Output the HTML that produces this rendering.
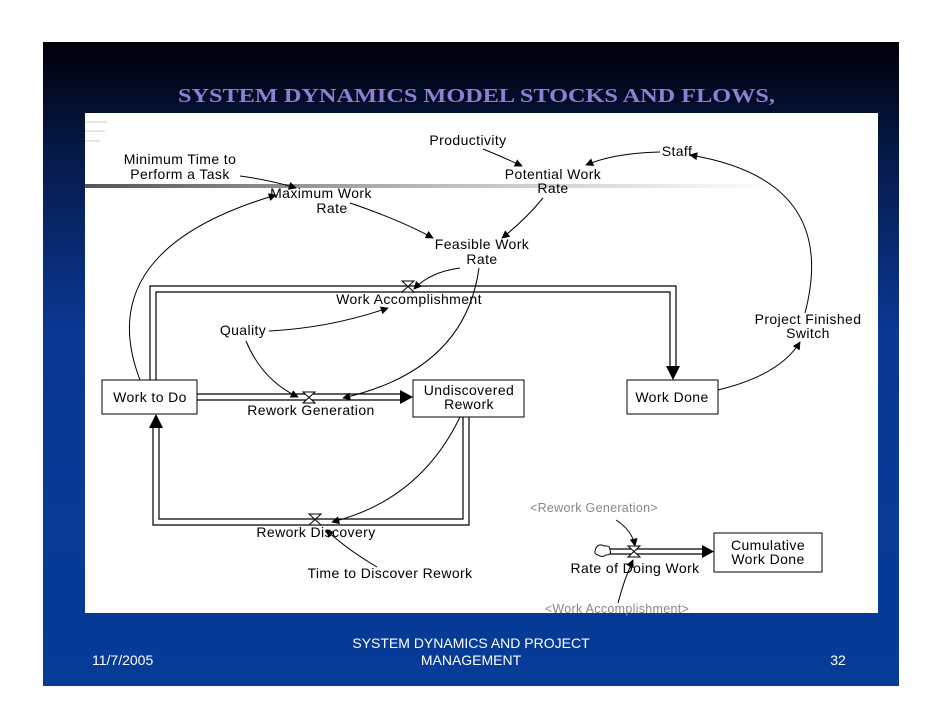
<!DOCTYPE html>
<html><head><meta charset="utf-8"><style>
html,body{margin:0;padding:0;background:#fff;width:942px;height:728px;overflow:hidden}
svg{display:block}
</style></head><body>
<svg width="942" height="728" viewBox="0 0 942 728" xmlns="http://www.w3.org/2000/svg" font-family="Liberation Sans, sans-serif">
<defs>
<linearGradient id="bg" x1="0" y1="0" x2="0" y2="1">
<stop offset="0" stop-color="#00000a"/>
<stop offset="0.18" stop-color="#061a4a"/>
<stop offset="0.45" stop-color="#0a3894"/>
<stop offset="1" stop-color="#063b98"/>
</linearGradient>
<linearGradient id="gl" x1="0" y1="0" x2="1" y2="0">
<stop offset="0" stop-color="#555"/>
<stop offset="0.5" stop-color="#bbb"/>
<stop offset="1" stop-color="#fff"/>
</linearGradient>
<marker id="a" viewBox="0 0 10 10" refX="9" refY="5" markerWidth="13" markerHeight="8" orient="auto" markerUnits="userSpaceOnUse"><path d="M0,0 L10,5 L0,10z" fill="#000"/></marker>
</defs>
<rect x="43" y="42" width="856" height="644" fill="url(#bg)"/>
<text x="178" y="102" textLength="597" lengthAdjust="spacingAndGlyphs" font-family="Liberation Serif, serif" font-weight="bold" font-size="20" fill="#8f7fd0">SYSTEM DYNAMICS MODEL  STOCKS AND FLOWS,</text>
<rect x="85" y="113" width="793" height="500" fill="#fff"/>
<g stroke="#ccc" stroke-width="1"><line x1="85" y1="122" x2="107" y2="122"/><line x1="85" y1="131" x2="105" y2="131"/><line x1="85" y1="141" x2="100" y2="141"/></g>
<rect x="85" y="184" width="690" height="4" fill="url(#gl)"/>

<g font-size="14" letter-spacing="0.4" fill="#000" text-anchor="middle">
<text x="468" y="145">Productivity</text>
<text x="677" y="156">Staff</text>
<text x="180" y="164">Minimum Time to</text>
<text x="180" y="179">Perform a Task</text>
<text x="553" y="179">Potential Work</text>
<text x="553" y="193">Rate</text>
<text x="321" y="198">Maximum Work</text>
<text x="332" y="213">Rate</text>
<text x="482" y="249">Feasible Work</text>
<text x="482" y="264">Rate</text>
<text x="409" y="304">Work Accomplishment</text>
<text x="243" y="335">Quality</text>
<text x="808" y="324">Project Finished</text>
<text x="808" y="338">Switch</text>
<text x="311" y="415">Rework Generation</text>
<text x="316" y="537">Rework Discovery</text>
<text x="390" y="578">Time to Discover Rework</text>
<text x="635" y="573">Rate of Doing Work</text>
</g>
<g font-size="12.5" letter-spacing="0.3" fill="#888" text-anchor="middle">
<text x="594" y="512">&lt;Rework Generation&gt;</text>
<text x="617" y="613">&lt;Work Accomplishment&gt;</text>
</g>

<g fill="none" stroke="#000" stroke-width="1.2">
<path d="M150,380 V286 H676 V370"/>
<path d="M156,380 V292 H670 V370"/>
<path d="M197,394 H403"/><path d="M197,400 H403"/>
<path d="M463,417 V519 H159 V425"/><path d="M469,417 V525 H153 V425"/>
<path d="M610,549 H705"/><path d="M610,554 H705"/>
</g>
<path d="M666,366 L673,380 L680,366z" fill="#000"/>
<path d="M400,390 L413,397 L400,404z" fill="#000"/>
<path d="M149,428 L156,414 L163,428z" fill="#000"/>
<path d="M702,545 L714,551.5 L702,558z" fill="#000"/>
<g fill="#fff" stroke="#000" stroke-width="1">
<path d="M402,281 L414,281 L402,292 L414,292z"/>
<path d="M303,392 L315,392 L303,403 L315,403z"/>
<path d="M309,514 L321,514 L309,525 L321,525z"/>
<path d="M628,546 L640,546 L628,557 L640,557z"/>
<path d="M596,548 q3,-5 8,-2 q6,-1 6,4 q2,5 -4,5 q-4,3 -8,0 q-5,-1 -2,-7z"/>
</g>
<g fill="#fff" stroke="#000" stroke-width="1">
<rect x="102" y="380" width="95" height="34"/>
<rect x="413" y="380" width="111" height="37"/>
<rect x="627" y="380" width="91" height="34"/>
<rect x="714" y="533" width="108" height="39"/>
</g>
<g font-size="14" letter-spacing="0.4" fill="#000" text-anchor="middle">
<text x="150" y="402">Work to Do</text>
<text x="469" y="395">Undiscovered</text>
<text x="469" y="409">Rework</text>
<text x="672" y="402">Work Done</text>
<text x="768" y="550">Cumulative</text>
<text x="768" y="564">Work Done</text>
</g>

<g fill="none" stroke="#000" stroke-width="1" marker-end="url(#a)">
<path d="M240,176 Q270,180 296,188"/>
<path d="M483,149 Q505,158 522,166"/>
<path d="M660,152 Q615,153 586,165"/>
<path d="M350,203 Q400,220 433,238"/>
<path d="M543,198 Q525,220 502,238"/>
<path d="M460,268 Q430,272 414,289"/>
<path d="M140,380 Q90,250 276,195"/>
<path d="M269,331 Q330,328 388,308"/>
<path d="M246,341 Q262,380 298,397"/>
<path d="M479,268 Q465,370 343,398"/>
<path d="M460,417 Q420,500 332,522"/>
<path d="M718,390 Q780,375 800,342"/>
<path d="M805,313 Q840,180 690,155"/>
<path d="M377,567 Q348,550 326,530"/>
<path d="M616,520 Q632,530 635,546"/>
<path d="M618,603 Q624,580 633,560"/>
</g>

<g font-size="14" fill="#fff">
<text x="92" y="665">11/7/2005</text>
<text x="471" y="648" text-anchor="middle">SYSTEM DYNAMICS AND PROJECT</text>
<text x="471" y="665" text-anchor="middle">MANAGEMENT</text>
<text x="838" y="665" text-anchor="middle">32</text>
</g>
</svg>
</body></html>
